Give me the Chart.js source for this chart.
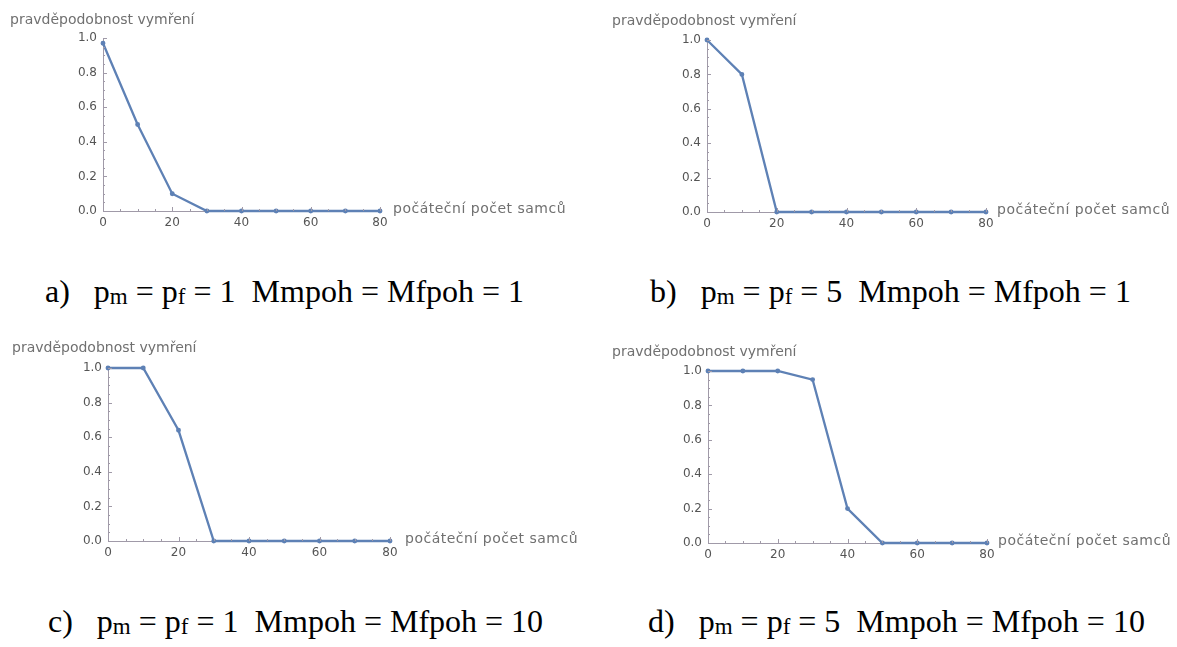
<!DOCTYPE html>
<html><head><meta charset="utf-8">
<script src="https://cdn.jsdelivr.net/npm/chart.js@4"></script>
<style>
body{margin:0;background:#fff;width:1177px;height:647px;position:relative;overflow:hidden}
canvas{position:absolute}
.cap{position:absolute;font-family:"Liberation Serif","Times New Roman",serif;font-size:32px;color:#000;white-space:pre;line-height:1}
.cap sub{font-size:0.72em;vertical-align:-0.1em;line-height:0}
</style></head><body>
<canvas id="ca" width="590" height="240" style="left:0px;top:0px"></canvas>
<canvas id="cb" width="577" height="240" style="left:600px;top:0px"></canvas>
<canvas id="cc" width="590" height="240" style="left:0px;top:330px"></canvas>
<canvas id="cd" width="577" height="240" style="left:600px;top:330px"></canvas>
<div class="cap" style="left:45px;top:275px">a)   p<sub>m</sub> = p<sub>f</sub> = 1  Mmpoh = Mfpoh = 1</div>
<div class="cap" style="left:650px;top:275px">b)   p<sub>m</sub> = p<sub>f</sub> = 5  Mmpoh = Mfpoh = 1</div>
<div class="cap" style="left:48px;top:605px">c)   p<sub>m</sub> = p<sub>f</sub> = 1  Mmpoh = Mfpoh = 10</div>
<div class="cap" style="left:648px;top:605px">d)   p<sub>m</sub> = p<sub>f</sub> = 5  Mmpoh = Mfpoh = 10</div>
<script>
// ---- data ----
const startCounts = [0, 10, 20, 30, 40, 50, 60, 70, 80];
const seriesA = [0.97, 0.5, 0.1, 0, 0, 0, 0, 0, 0];
const seriesB = [1.0, 0.8, 0, 0, 0, 0, 0, 0, 0];
const seriesC = [1.0, 1.0, 0.64, 0, 0, 0, 0, 0, 0];
const seriesD = [1.0, 1.0, 1.0, 0.95, 0.2, 0, 0, 0, 0];
const xTickValues = [0, 20, 40, 60, 80];
const yTickValues = [0, 0.2, 0.4, 0.6, 0.8, 1.0];
const yTitle = 'pravděpodobnost vymření';
const xTitle = 'počáteční počet samců';

const decor = {
  id: 'decor',
  afterDraw(chart, args, opts) {
    const {ctx, chartArea: {left, right, top, bottom}, scales: {x, y}} = chart;
    ctx.save();
    ctx.strokeStyle = '#a09aa8';
    ctx.lineWidth = 1;
    for (let i = 0; i <= 16; i++) {
      const px = Math.round(x.getPixelForValue(i * 5)) + 0.5;
      const len = i % 4 === 0 ? 4 : 2;
      ctx.beginPath(); ctx.moveTo(px, bottom); ctx.lineTo(px, bottom - len); ctx.stroke();
    }
    for (let i = 0; i <= 20; i++) {
      const py = Math.round(y.getPixelForValue(i * 0.05)) + 0.5;
      const len = i % 4 === 0 ? 4 : 2;
      ctx.beginPath(); ctx.moveTo(left, py); ctx.lineTo(left + len, py); ctx.stroke();
    }
    ctx.fillStyle = '#707070';
    ctx.font = '14px "DejaVu Sans"';
    ctx.textAlign = 'left';
    ctx.textBaseline = 'middle';
    ctx.fillText(yTitle, opts.ytx, opts.yty);
    ctx.textBaseline = 'alphabetic';
    try { ctx.letterSpacing = '0.5px'; } catch (e) {}
    ctx.fillText(xTitle, right + opts.xtdx, bottom + 2);
    ctx.restore();
  }
};

function makeChart(id, values, L) {
  const cv = document.getElementById(id);
  new Chart(cv, {
    type: 'line',
    data: { datasets: [{
      data: startCounts.map((v, i) => ({x: v, y: values[i]})),
      borderColor: '#5e81b5', backgroundColor: '#5e81b5',
      borderWidth: 2.3, pointRadius: 1.3, pointHoverRadius: 1.3,
      tension: 0, clip: false
    }]},
    options: {
      responsive: false, animation: false,
      layout: { padding: { left: 0, top: L.top, right: cv.width - L.right, bottom: 0 } },
      plugins: { legend: {display: false}, tooltip: {enabled: false}, decor: L },
      scales: {
        x: {
          type: 'linear', min: 0, max: 80,
          afterBuildTicks: s => { s.ticks = xTickValues.map(v => ({value: v})); },
          afterFit: s => { s.height = cv.height - L.bottom; },
          grid: {display: false, drawTicks: false},
          border: {display: true, color: '#a09aa8', width: 1},
          ticks: {padding: 5, color: '#555', font: {family: 'DejaVu Sans', size: 12}, autoSkip: false, maxRotation: 0}
        },
        y: {
          type: 'linear', min: 0, max: 1,
          afterBuildTicks: s => { s.ticks = yTickValues.map(v => ({value: v})); },
          afterFit: s => { s.width = L.left; },
          grid: {display: false, drawTicks: false},
          border: {display: true, color: '#a09aa8', width: 1},
          ticks: {padding: 6, color: '#555', font: {family: 'DejaVu Sans', size: 12},
                  callback: v => Number(v).toFixed(1)}
        }
      }
    },
    plugins: [decor]
  });
}

makeChart('ca', seriesA, {left: 103, top: 38, right: 380, bottom: 211, ytx: 10, yty: 20, xtdx: 13});
makeChart('cb', seriesB, {left: 107, top: 40, right: 386, bottom: 212, ytx: 12, yty: 21, xtdx: 11});
makeChart('cc', seriesC, {left: 108, top: 38, right: 390, bottom: 211, ytx: 12, yty: 18, xtdx: 15});
makeChart('cd', seriesD, {left: 108, top: 41, right: 387, bottom: 213, ytx: 12, yty: 22, xtdx: 11});
</script>
</body></html>
